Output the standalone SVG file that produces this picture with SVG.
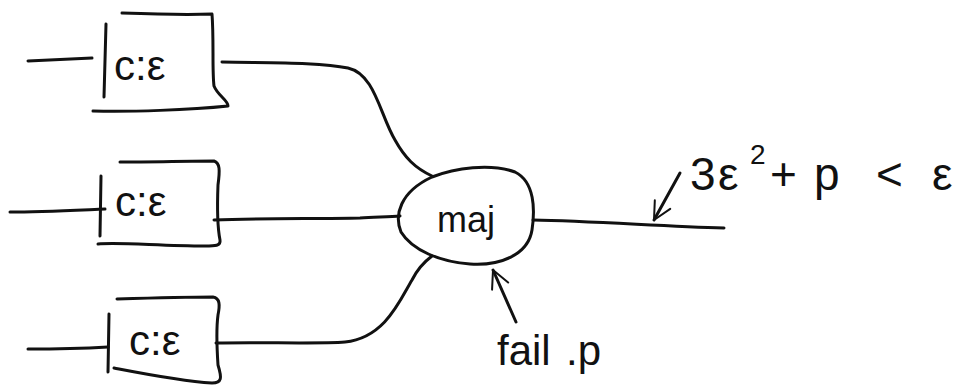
<svg xmlns="http://www.w3.org/2000/svg" width="970" height="387" viewBox="0 0 970 387">
  <style>
    .ink { fill: none; stroke: #111; stroke-width: 3; stroke-linecap: round; stroke-linejoin: round; }
    .lbl { font-family: "Liberation Sans", "DejaVu Sans", sans-serif; fill: #111; }
  </style>
  <defs>
    <marker id="head2" viewBox="0 0 30 30" refX="26" refY="15" markerWidth="24" markerHeight="24" orient="auto" markerUnits="userSpaceOnUse">
      <path d="M4,4 L26,15 L4,26" fill="none" stroke="#111" stroke-width="2.5" stroke-linecap="round" stroke-linejoin="round"/>
    </marker>
  </defs>

  <!-- connectors -->
  <g id="connectors">
    <!-- inputs -->
    <path class="ink" d="M28,61 L92,58"/>
    <path class="ink" d="M10,212 C40,212 80,210 105,209"/>
    <path class="ink" d="M28,349 C60,349 90,348 108,347"/>
    <!-- box outputs into maj -->
    <path class="ink" d="M222,62 C270,63 320,62 348,68 C375,74 380,115 395,140 C405,158 415,168 432,176"/>
    <path class="ink" d="M214,220 C260,218 320,219 360,218 C375,217 390,217 400,216"/>
    <path class="ink" d="M216,343 C260,342 320,344 345,342 C385,338 400,300 412,280 C418,268 424,262 432,256"/>
    <!-- maj output -->
    <path class="ink" d="M533,220 C590,221 660,226 724,228"/>
    <!-- arrow toward the output wire -->
    <path class="ink" d="M680,173 L654,220" marker-end="url(#head2)"/>
    <!-- arrow from the fail label -->
    <path class="ink" d="M516,322 L493,270" marker-end="url(#head2)"/>
  </g>

  <g id="box1">
    <path class="ink" d="M122,13 C150,14 185,15 212,14 C214,40 212,70 214,86 C218,96 228,100 228,106 C190,110 130,112 93,111"/>
    <path class="ink" d="M106,24 L104,97"/>
    <text class="lbl" x="114" y="80" font-size="42">c:ε</text>
  </g>

  <g id="box2">
    <path class="ink" d="M120,162 C150,162 190,161 214,161 C220,163 220,170 218,185 C217,210 218,230 220,240 C221,246 215,246 205,246 C160,246 120,242 98,244"/>
    <path class="ink" d="M101,176 L100,236"/>
    <text class="lbl" x="115" y="216" font-size="42">c:ε</text>
  </g>

  <g id="box3">
    <path class="ink" d="M117,299 C150,298 190,297 213,297 C220,298 220,305 218,315 C216,330 217,350 218,365 C222,378 222,383 212,383 C180,381 140,373 114,368"/>
    <path class="ink" d="M109,314 L108,372"/>
    <text class="lbl" x="129" y="355" font-size="42">c:ε</text>
  </g>

  <g id="maj">
    <path class="ink" d="M432,177 C455,168 490,163 515,172 C535,182 535,210 532,230 C528,255 500,266 470,264 C440,262 412,250 401,232 C394,215 400,192 432,177 Z"/>
    <text class="lbl" x="437" y="232" font-size="36">maj</text>
  </g>

  <g id="fail-label">
    <text class="lbl" x="497" y="365" font-size="42">fail<tspan x="566">.p</tspan></text>
  </g>

  <g id="bound-label">
    <text class="lbl" y="190" font-size="46"><tspan x="690">3</tspan><tspan x="718">ε</tspan><tspan x="750" y="164" font-size="28">2</tspan><tspan x="770" y="190">+</tspan><tspan x="814">p</tspan><tspan x="876">&lt;</tspan><tspan x="932">ε</tspan></text>
  </g>
</svg>
